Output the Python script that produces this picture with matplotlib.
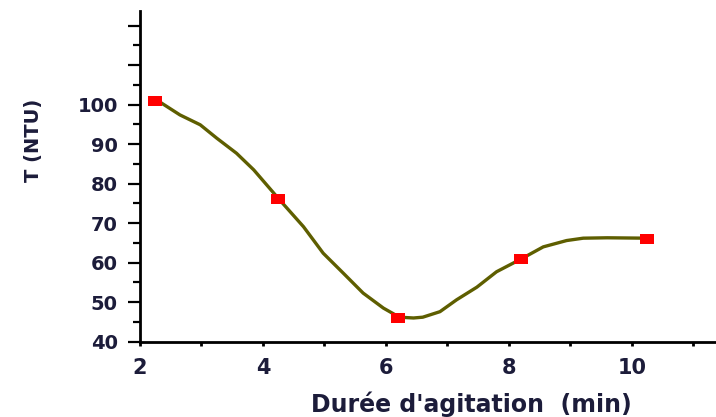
import numpy as np
import matplotlib
matplotlib.use("Agg")
import matplotlib.pyplot as plt
from matplotlib.ticker import MultipleLocator, FixedLocator

# measured points (red squares)
duree = [2.25, 4.25, 6.2, 8.2, 10.25]
turbidite = [101, 76, 46, 61, 66]

# smooth curve
curve_x = [2.27, 2.65, 2.98, 3.25, 3.57, 3.85, 4.26, 4.66, 4.98, 5.31, 5.63,
           5.96, 6.22, 6.45, 6.6, 6.88, 7.15, 7.48, 7.8, 8.22, 8.56, 8.94,
           9.21, 9.6, 10.24]
curve_y = [101.2, 97.4, 94.9, 91.5, 87.7, 83.5, 76.1, 69.1, 62.4, 57.3, 52.3,
           48.5, 46.2, 46.0, 46.2, 47.6, 50.6, 53.8, 57.7, 61.1, 64.0, 65.6,
           66.2, 66.3, 66.2]

yticks = [40, 50, 60, 70, 80, 90, 100, 110, 120]
yticklabels = ["40", "50", "60", "70", "80", "90", "100", "", ""]
xticks = [2, 4, 6, 8, 10]

plt.rcParams["font.family"] = ["DejaVu Sans"]
txt = "#1c1c3a"

fig = plt.figure(figsize=(7.16, 4.17), dpi=100)
ax = fig.add_axes([0.1955, 0.1806, 0.8045, 0.793])

ax.plot(curve_x, curve_y, color="#5e5e00", linewidth=2.4, zorder=2)
rect = [(-1.4, -1), (1.4, -1), (1.4, 1), (-1.4, 1), (-1.4, -1)]
ax.plot(duree, turbidite, linestyle="none", marker=rect, markersize=9.5,
        color="#ff0000", markeredgewidth=0, zorder=3)

ax.set_xlim(2, 11.37)
ax.set_ylim(40, 123.7)

ax.xaxis.set_major_locator(FixedLocator(xticks))
ax.xaxis.set_minor_locator(MultipleLocator(1))
ax.yaxis.set_major_locator(FixedLocator(yticks))
ax.set_yticklabels(yticklabels)
ax.yaxis.set_minor_locator(MultipleLocator(5))

for s in ["top", "right"]:
    ax.spines[s].set_visible(False)
for s in ["left", "bottom"]:
    ax.spines[s].set_linewidth(2)

ax.tick_params(axis="y", which="major", length=9, width=1.6, pad=7,
               labelsize=14, labelcolor=txt, direction="out")
ax.tick_params(axis="y", which="minor", length=5, width=1.6, direction="out")
ax.tick_params(axis="x", which="both", length=3, width=2, pad=9,
               labelsize=15, labelcolor=txt, direction="out")
for lab in ax.get_xticklabels() + ax.get_yticklabels():
    lab.set_fontweight("bold")

ax.set_xlabel("Durée d'agitation  (min)", fontsize=17, fontweight="bold",
              color=txt)
ax.xaxis.set_label_coords(0.575, -0.152)
ax.set_ylabel("T (NTU)", fontsize=14, fontweight="bold", color=txt)
ax.yaxis.set_label_coords(-0.168, 0.61)

fig.savefig("out.png", dpi=100)
